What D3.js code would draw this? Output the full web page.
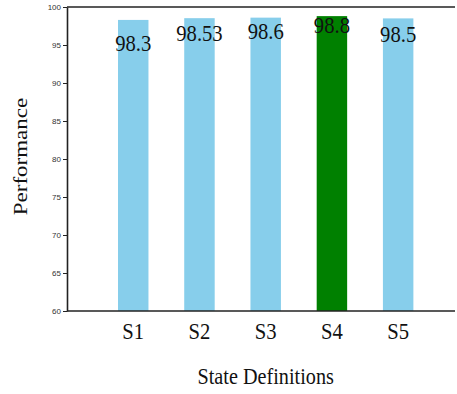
<!DOCTYPE html>
<html>
<head>
<meta charset="utf-8">
<script src="https://cdn.jsdelivr.net/npm/d3@7"></script>
<style>
  html, body { margin: 0; padding: 0; background: #fff; }
  svg { display: block; }
</style>
</head>
<body>
<svg id="chart" width="457" height="394"></svg>
<script>
// Data
const categories = ["S1", "S2", "S3", "S4", "S5"];
const performance = [98.3, 98.53, 98.6, 98.8, 98.5];
const highlighted = ["S4"];
const yTicks = [60, 65, 70, 75, 80, 85, 90, 95, 100];

// Layout
const W = 457, H = 394;
const plotLeft = 67, plotTop = 7, plotBottom = 311, frameRight = 455;
const labelDrop = [31, 22.5, 21, 17, 23.5];   // baseline offset of value labels below bar tops
const squeeze = 0.86;                          // horizontal condensing of serif text

const svg = d3.select("#chart");

const x = d3.scaleLinear().domain([0, 6]).range([plotLeft, plotLeft + 66.23 * 6]);
const y = d3.scaleLinear().domain([60, 100]).range([plotBottom, plotTop]);
const barW = 0.46;

// Bars
svg.append("g").selectAll("rect")
  .data(categories)
  .join("rect")
  .attr("x", (d, i) => x(i + 1 - barW / 2))
  .attr("width", (d, i) => x(i + 1 + barW / 2) - x(i + 1 - barW / 2))
  .attr("y", (d, i) => y(performance[i]))
  .attr("height", (d, i) => y(60) - y(performance[i]))
  .attr("fill", d => highlighted.includes(d) ? "#008000" : "#87CEEB");

// Value labels
svg.append("g").selectAll("text")
  .data(categories)
  .join("text")
  .attr("transform", (d, i) => `translate(${x(i + 1)},${y(performance[i]) + labelDrop[i]}) scale(${squeeze},1)`)
  .attr("text-anchor", "middle")
  .attr("font-family", "Liberation Serif, Times New Roman, serif")
  .attr("font-size", 24)
  .attr("fill", "#111")
  .text((d, i) => String(performance[i]));

// Frame: top and bottom lines
svg.append("line")
  .attr("x1", plotLeft).attr("x2", frameRight)
  .attr("y1", plotTop).attr("y2", plotTop)
  .attr("stroke", "#222").attr("stroke-width", 1.6);
svg.append("line")
  .attr("x1", plotLeft).attr("x2", frameRight)
  .attr("y1", plotBottom).attr("y2", plotBottom)
  .attr("stroke", "#222").attr("stroke-width", 1.6);

// Y axis
const yAxis = d3.axisLeft(y).tickValues(yTicks).tickSize(4).tickPadding(2).tickSizeOuter(0);
const gy = svg.append("g").attr("transform", `translate(${plotLeft},0)`).call(yAxis);
gy.select(".domain").attr("stroke", "#222").attr("stroke-width", 1.6);
gy.selectAll(".tick line").attr("stroke", "#222");
gy.selectAll(".tick text")
  .attr("font-family", "Liberation Sans, Arial, sans-serif")
  .attr("font-size", 8)
  .attr("fill", "#333");

// X category labels
svg.append("g").selectAll("text")
  .data(categories)
  .join("text")
  .attr("transform", (d, i) => `translate(${x(i + 1)},339) scale(${squeeze},1)`)
  .attr("text-anchor", "middle")
  .attr("font-family", "Liberation Serif, Times New Roman, serif")
  .attr("font-size", 24)
  .attr("fill", "#111")
  .text(d => d);

// Axis titles
svg.append("text")
  .attr("transform", `translate(${x(3)},384) scale(${squeeze},1)`)
  .attr("text-anchor", "middle")
  .attr("font-family", "Liberation Serif, Times New Roman, serif")
  .attr("font-size", 23.5)
  .attr("fill", "#111")
  .text("State Definitions");

svg.append("text")
  .attr("transform", `translate(27,156.5) scale(${squeeze},1) rotate(-90)`)
  .attr("text-anchor", "middle")
  .attr("font-family", "Liberation Serif, Times New Roman, serif")
  .attr("font-size", 23)
  .attr("fill", "#111")
  .text("Performance");
</script>
</body>
</html>
